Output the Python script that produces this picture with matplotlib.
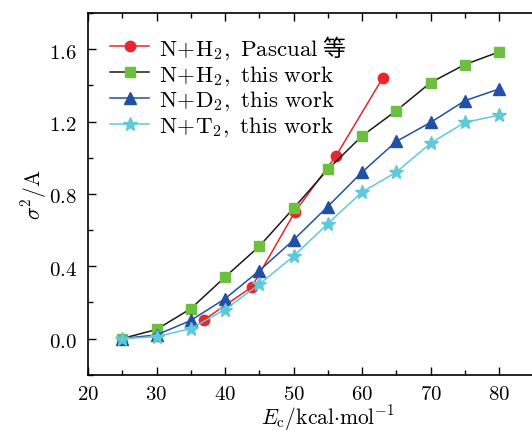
import matplotlib
matplotlib.use('Agg')
import matplotlib.pyplot as plt
from matplotlib.ticker import MultipleLocator

plt.rcParams['font.family'] = ['Noto Sans CJK SC', 'DejaVu Sans']
plt.rcParams['mathtext.fontset'] = 'cm'

# energies (kcal/mol)
e_pascual = [37.0, 43.9, 50.2, 56.2, 63.0]
s_pascual = [0.105, 0.285, 0.70, 1.01, 1.44]

e_work = [25, 30, 35, 40, 45, 50, 55, 60, 65, 70, 75, 80]
s_h2 = [0.0, 0.05, 0.165, 0.34, 0.51, 0.72, 0.935, 1.12, 1.26, 1.415, 1.515, 1.585]
s_d2 = [0.0, 0.02, 0.10, 0.22, 0.375, 0.545, 0.73, 0.92, 1.09, 1.195, 1.315, 1.38]
s_t2 = [0.0, 0.01, 0.055, 0.16, 0.30, 0.455, 0.635, 0.81, 0.92, 1.08, 1.195, 1.235]

labels = [r'$\mathrm{N\!+\!H_2,\ Pascual}$ 等', r'$\mathrm{N\!+\!H_2,\ this\ work}$',
          r'$\mathrm{N\!+\!D_2,\ this\ work}$', r'$\mathrm{N\!+\!T_2,\ this\ work}$']

fig = plt.figure(figsize=(5.32, 4.31), dpi=100)
ax = fig.add_axes([0.1654, 0.1283, 0.8346, 0.8392])

ax.plot(e_pascual, s_pascual, '-o', color='#e8262c', lw=1.1, ms=7.5, label=labels[0])
ax.plot(e_work, s_h2, '-s', color='#1a1a1a', mfc='#6cbf3f', mec='#6cbf3f', lw=1.1, ms=6.5, label=labels[1])
ax.plot(e_work, s_d2, '-^', color='#2150a6', lw=1.1, ms=8.5, label=labels[2])
ax.plot(e_work, s_t2, '-*', color='#5fc9d9', lw=1.1, ms=10.5, label=labels[3])

ax.set_xlim(20, 84.8)
ax.set_ylim(-0.2, 1.8)
ax.xaxis.set_major_locator(MultipleLocator(10))
ax.xaxis.set_minor_locator(MultipleLocator(5))
ax.yaxis.set_major_locator(MultipleLocator(0.4))
ax.yaxis.set_minor_locator(MultipleLocator(0.2))
ax.xaxis.set_major_formatter(plt.FuncFormatter(lambda v, p: r'$%d$' % v))
ax.yaxis.set_major_formatter(plt.FuncFormatter(lambda v, p: r'$%.1f$' % v))
ax.tick_params(which='both', direction='in', top=True, right=False, labelsize=15, width=1.0)
ax.tick_params(which='major', length=6)
ax.tick_params(which='minor', length=3.5)
ax.tick_params(axis='y', pad=8)
ax.tick_params(axis='x', pad=5)
ax.spines['right'].set_visible(False)
for s in ['left', 'bottom', 'top']:
    ax.spines[s].set_linewidth(1.2)

ax.set_xlabel(r'$E_{\mathrm{c}}/\mathrm{kcal}{\cdot}\mathrm{mol}^{-1}$', fontsize=15.5)
ax.xaxis.set_label_coords(0.54, -0.077)
ax.set_ylabel(r'$\sigma^2/\mathrm{A}$', fontsize=15.5, labelpad=0)

ax.legend(loc='upper left', frameon=False, fontsize=16.5, handlelength=1.7,
          handletextpad=0.4, labelspacing=0.06, borderaxespad=0.0,
          bbox_to_anchor=(0.03, 0.97))

fig.savefig('out.png', dpi=100)
